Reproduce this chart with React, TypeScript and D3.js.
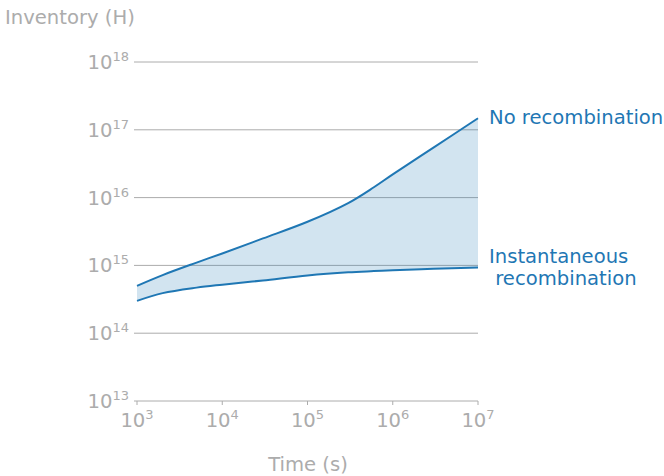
import React from "react";
import * as d3 from "d3";

const times = [1e3, 2e3, 5e3, 1e4, 3e4, 1e5, 3e5, 6e5, 1e6, 3e6, 1e7];
const noRecombination = [5.0e14, 7.2e14, 1.1e15, 1.5e15, 2.5e15, 4.4e15, 8.3e15, 1.42e16, 2.2e16, 5.46e16, 1.48e17];
const instantaneous = [3.0e14, 3.9e14, 4.7e14, 5.2e14, 6.0e14, 7.1e14, 7.9e14, 8.25e14, 8.5e14, 8.9e14, 9.3e14];
const xTickExps = [3, 4, 5, 6, 7];
const yTickExps = [13, 14, 15, 16, 17, 18];

const W = 664;
const H = 476;
const gray = "#acacac";
const blue = "#1f77b4";
const font = "DejaVu Sans, sans-serif";
const FS = 19.6;
const SUP = 13;

export default function App() {
  const x = d3.scaleLog().domain([1e3, 1e7]).range([137, 478]);
  const y = d3.scaleLog().domain([1e13, 1e18]).range([401, 62]);
  const idx = times.map((_, i) => i);
  const curve = d3.curveCatmullRom.alpha(0.5);

  const area = d3
    .area<number>()
    .x((i) => x(times[i]))
    .y0((i) => y(instantaneous[i]))
    .y1((i) => y(noRecombination[i]))
    .curve(curve);
  const lineUp = d3
    .line<number>()
    .x((i) => x(times[i]))
    .y((i) => y(noRecombination[i]))
    .curve(curve);
  const lineLo = d3
    .line<number>()
    .x((i) => x(times[i]))
    .y((i) => y(instantaneous[i]))
    .curve(curve);

  return (
    <svg
      width={W}
      height={H}
      style={{ position: "absolute", left: 0, top: 0, background: "#fff" }}
      fontFamily={font}
    >
      {yTickExps.map((e) => (
        <g key={"y" + e}>
          <line x1={134} x2={478} y1={y(Math.pow(10, e))} y2={y(Math.pow(10, e))} stroke={gray} strokeWidth={1} />
          <text x={129} y={y(Math.pow(10, e)) + 7} textAnchor="end" fill={gray} fontSize={FS}>
            10<tspan fontSize={SUP} dy={-8}>{e}</tspan>
          </text>
        </g>
      ))}
      {xTickExps.map((e) => (
        <g key={"x" + e}>
          <line x1={x(Math.pow(10, e))} x2={x(Math.pow(10, e))} y1={401} y2={405} stroke={gray} strokeWidth={1} />
          <text x={x(Math.pow(10, e))} y={427} textAnchor="middle" fill={gray} fontSize={FS}>
            10<tspan fontSize={SUP} dy={-8}>{e}</tspan>
          </text>
        </g>
      ))}
      <path d={area(idx) || ""} fill={blue} fillOpacity={0.2} />
      <path d={lineUp(idx) || ""} fill="none" stroke={blue} strokeWidth={2} />
      <path d={lineLo(idx) || ""} fill="none" stroke={blue} strokeWidth={2} />
      <text x={489} y={124} fill={blue} fontSize={FS}>No recombination</text>
      <text x={489} y={263} fill={blue} fontSize={FS}>Instantaneous</text>
      <text x={489} y={285} fill={blue} fontSize={FS} style={{ whiteSpace: "pre" }}>{" recombination"}</text>
      <text x={5} y={24} fill={gray} fontSize={FS}>Inventory (H)</text>
      <text x={308} y={471} fill={gray} fontSize={FS} textAnchor="middle">Time (s)</text>
    </svg>
  );
}
